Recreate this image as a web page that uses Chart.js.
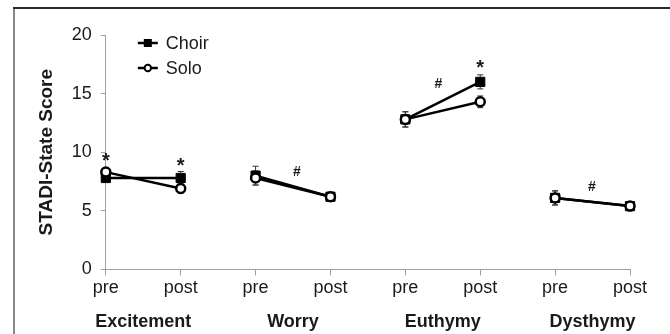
<!DOCTYPE html>
<html>
<head>
<meta charset="utf-8">
<script src="https://cdn.jsdelivr.net/npm/chart.js@4"></script>
<style>
html,body{margin:0;padding:0;background:#fff;}
#wrap{width:670px;height:334px;position:relative;}
</style>
</head>
<body>
<div id="wrap"><canvas id="c" width="670" height="334"></canvas></div>
<script>
// ---- data ----
const tickLabels = ['pre','post','pre','post','pre','post','pre','post'];
const groupNames = ['Excitement','Worry','Euthymy','Dysthymy'];
const choirValues = [7.8, 7.8, 8.0, 6.2, 12.8, 16.0, 6.1, 5.4];
const soloValues  = [8.3, 6.9, 7.8, 6.2, 12.8, 14.3, 6.1, 5.4];
const choirErrors = [0.3, 0.55, 0.8, 0.3, 0.65, 0.6, 0.6, 0.2];
const soloErrors  = [0.3, 0.4, 0.6, 0.3, 0.65, 0.5, 0.6, 0.2];
const yTicks = [0, 5, 10, 15, 20];
// significance marks: text, x position (category index), y value
const markText = ['*', '*', '#', '#', '*', '#'];
const markX    = [0, 1, 2.55, 4.44, 5, 6.49];
const markY    = [9.5, 9.0, 8.3, 15.8, 17.4, 7.0];

const FONT = '"Liberation Sans", Arial, sans-serif';
const TXT = '#1a1a1a';
const AXIS = '#a0a0a0';

const frame = {
  id: 'frame',
  beforeDraw(chart) {
    const c = chart.ctx;
    c.save();
    c.fillStyle = '#fff';
    c.fillRect(0, 0, chart.width, chart.height);
    c.fillStyle = '#8a8a8a';
    c.fillRect(13, 8, 2, chart.height - 8);
    c.fillStyle = '#2a2a2a';
    c.fillRect(13, 7, chart.width - 13, 2);
    c.restore();
  }
};

const errorBars = {
  id: 'errorBars',
  beforeDatasetsDraw(chart) {
    const c = chart.ctx, xs = chart.scales.x, ys = chart.scales.y;
    const sets = [[choirValues, choirErrors], [soloValues, soloErrors]];
    c.save();
    c.strokeStyle = '#333';
    c.lineWidth = 1;
    sets.forEach(([vals, errs]) => {
      vals.forEach((v, i) => {
        const x = xs.getPixelForValue(i);
        const y1 = ys.getPixelForValue(v + errs[i]);
        const y2 = ys.getPixelForValue(v - errs[i]);
        c.beginPath();
        c.moveTo(x, y1); c.lineTo(x, y2);
        c.moveTo(x - 3, y1); c.lineTo(x + 3, y1);
        c.moveTo(x - 3, y2); c.lineTo(x + 3, y2);
        c.stroke();
      });
    });
    c.restore();
  }
};

const extras = {
  id: 'extras',
  afterDraw(chart) {
    const c = chart.ctx, xs = chart.scales.x, ys = chart.scales.y, ca = chart.chartArea;
    c.save();
    // significance marks
    c.fillStyle = TXT;
    c.textAlign = 'center';
    c.textBaseline = 'middle';
    markText.forEach((t, i) => {
      c.font = (t === '*' ? 'bold 20px ' : 'bold 14px ') + FONT;
      c.fillText(t, xs.getPixelForValue(markX[i]), ys.getPixelForValue(markY[i]) + (t === '*' ? 3 : 0));
    });
    // group labels
    c.font = 'bold 18px ' + FONT;
    groupNames.forEach((g, i) => {
      const x = (xs.getPixelForValue(2 * i) + xs.getPixelForValue(2 * i + 1)) / 2;
      c.fillText(g, x, 322);
    });
    // legend
    const lx = ca.left + 32, ly = [43, 68];
    chart.data.datasets.forEach((ds, i) => {
      const y = ly[i];
      c.strokeStyle = '#000';
      c.lineWidth = 2.5;
      c.beginPath(); c.moveTo(lx, y); c.lineTo(lx + 20, y); c.stroke();
      c.beginPath();
      if (ds.pointStyle === 'rect') {
        c.fillStyle = '#000';
        c.fillRect(lx + 6, y - 4, 8, 8);
      } else {
        c.fillStyle = '#fff';
        c.lineWidth = 2;
        c.arc(lx + 10, y, 3.2, 0, Math.PI * 2);
        c.fill(); c.stroke();
      }
      c.fillStyle = TXT;
      c.textAlign = 'left';
      c.font = '18px ' + FONT;
      c.fillText(ds.label, lx + 28, y + 1);
    });
    c.restore();
  }
};

const hideBetween = ctx => (ctx.p0DataIndex % 2 === 1 ? 'rgba(0,0,0,0)' : '#000');

new Chart(document.getElementById('c'), {
  type: 'line',
  data: {
    labels: tickLabels,
    datasets: [
      {
        label: 'Choir', data: choirValues, order: 1,
        borderColor: '#000', borderWidth: 2.5,
        pointStyle: 'rect', pointRadius: 6.5, pointBackgroundColor: '#000', pointBorderColor: '#000', pointBorderWidth: 1,
        segment: { borderColor: hideBetween }, fill: false, tension: 0
      },
      {
        label: 'Solo', data: soloValues, order: 0,
        borderColor: '#000', borderWidth: 2.5,
        pointStyle: 'circle', pointRadius: 4.5, pointBackgroundColor: '#fff', pointBorderColor: '#000', pointBorderWidth: 2.5,
        segment: { borderColor: hideBetween }, fill: false, tension: 0
      }
    ]
  },
  options: {
    responsive: false,
    animation: false,
    devicePixelRatio: 1,
    layout: { padding: { left: 31, right: 40, top: 35, bottom: 33 } },
    plugins: { legend: { display: false }, tooltip: { enabled: false } },
    scales: {
      x: {
        type: 'category', offset: false,
        grid: { display: true, drawOnChartArea: false, drawTicks: true, tickLength: 6, color: AXIS, offset: false },
        border: { display: true, color: AXIS, width: 1 },
        ticks: { color: TXT, font: { family: FONT, size: 18 }, padding: 2, maxRotation: 0, autoSkip: false }
      },
      y: {
        min: 0, max: 20,
        afterBuildTicks: s => { s.ticks = yTicks.map(v => ({ value: v })); },
        grid: { display: true, drawOnChartArea: false, drawTicks: true, tickLength: 5, color: AXIS },
        border: { display: true, color: AXIS, width: 1 },
        ticks: { color: TXT, font: { family: FONT, size: 18 }, padding: 9 },
        title: { display: true, text: 'STADI-State Score', color: TXT, font: { family: FONT, size: 19, weight: 'bold' }, padding: { top: 4, bottom: 5 } }
      }
    }
  },
  plugins: [frame, errorBars, extras]
});
</script>
</body>
</html>
